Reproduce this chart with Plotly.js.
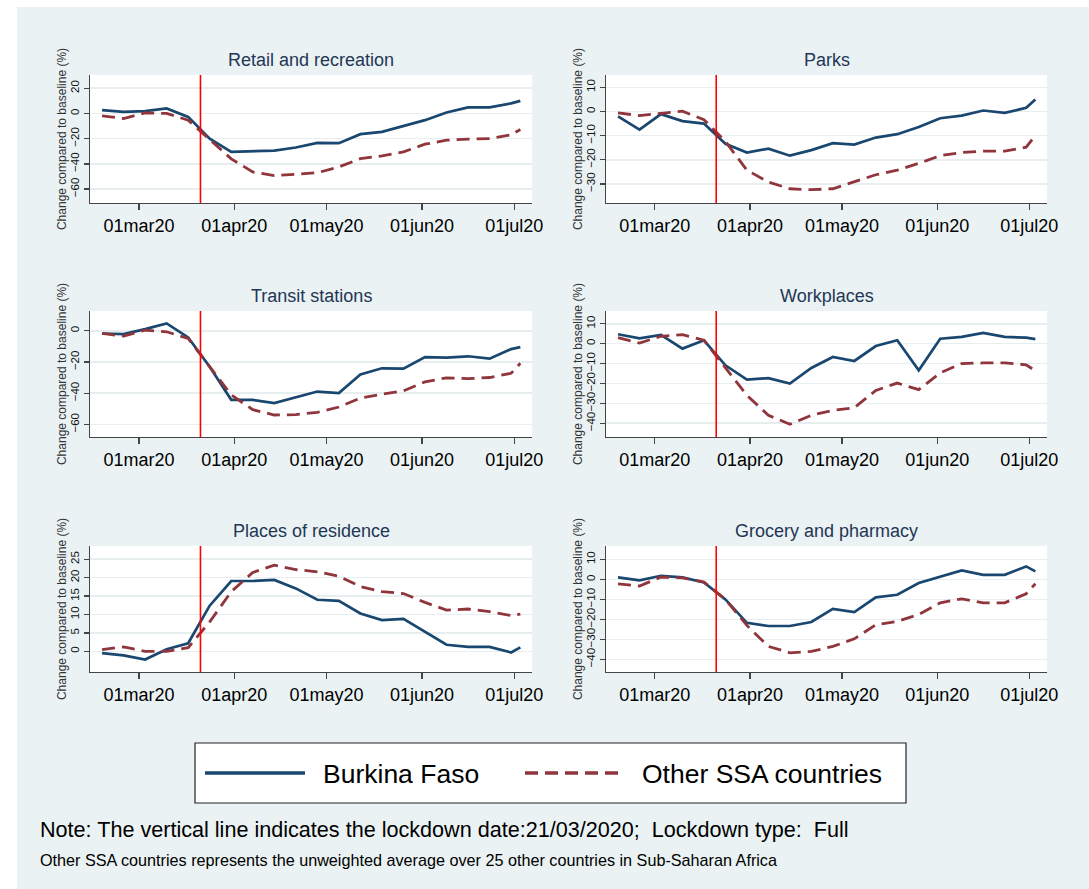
<!DOCTYPE html>
<html><head><meta charset="utf-8">
<script src="https://cdn.plot.ly/plotly-3.0.1.min.js"></script>
<style>html,body{margin:0;padding:0;background:#fff;}#chart{width:1089px;height:889px;}</style>
</head><body><div id="chart"></div>
<script>
// ---------- DATA ----------
const dates = ['2020-02-18','2020-02-25','2020-03-03','2020-03-10','2020-03-17','2020-03-24','2020-03-31',
  '2020-04-07','2020-04-14','2020-04-21','2020-04-28','2020-05-05','2020-05-12','2020-05-19','2020-05-26',
  '2020-06-02','2020-06-09','2020-06-16','2020-06-23','2020-06-30','2020-07-03'];

const panelTitles = ['Retail and recreation','Parks','Transit stations','Workplaces','Places of residence','Grocery and pharmacy'];
const seriesNames = ['Burkina Faso','Other SSA countries'];

const retailBF  = [2.6,1.3,1.9,4,-2.7,-20,-30.5,-29.7,-29.4,-27,-23.3,-23.6,-16.4,-14.6,-10,-5.3,0.8,4.8,4.8,8,10];
const retailSSA = [-1.9,-4,0.5,0,-5.3,-21,-36,-46.4,-49.3,-48.3,-47,-42.4,-35.8,-33.7,-30.5,-24.4,-21.2,-20.4,-19.9,-17,-12.7];

const parksBF  = [-2,-7.5,-1.1,-4,-5,-13.4,-17,-15.4,-18.3,-16,-13.1,-13.7,-10.8,-9.4,-6.4,-2.8,-1.7,0.4,-0.6,1.5,5];
const parksSSA = [-0.6,-1.7,-0.8,0.1,-3.4,-12.4,-24.3,-29.2,-32,-32.4,-32,-29.2,-26.2,-24.3,-21.5,-18.3,-17,-16.4,-16.4,-14.8,-10];

const transitBF  = [-1.7,-2.1,1.1,4.7,-4.2,-23,-44.2,-44.2,-46.3,-42.5,-38.9,-39.9,-28,-24,-24.2,-16.8,-17.2,-16.3,-17.8,-11.7,-10.4];
const transitSSA = [-1.7,-3.4,0.4,-0.6,-4.9,-23,-41,-50.5,-53.9,-53.7,-52.2,-48.8,-43.1,-40.6,-38.4,-32.7,-30.1,-30.6,-29.9,-27.2,-20.8];

const workBF  = [4.7,2.7,4.4,-2.5,1.7,-10.9,-18.1,-17.3,-20.1,-12.2,-6.7,-8.7,-1.2,1.7,-13.4,2.5,3.4,5.4,3.4,3,2.3];
const workSSA = [3,0.3,3.7,4.5,1.7,-12,-26,-36,-40.5,-36,-33.5,-32.2,-23.5,-19.8,-23.1,-14.7,-10,-9.7,-9.7,-10.6,-13.7];

const residBF  = [-0.5,-1.1,-2.2,0.6,2.2,12.4,19.1,19.1,19.4,17.1,14,13.7,10.3,8.5,8.8,5.4,1.8,1.2,1.2,-0.3,1.1];
const residSSA = [0.5,1.2,0,0,1,8,16.2,21.4,23.4,22.2,21.6,20.4,17.6,16.2,15.7,13.3,11.2,11.5,10.8,9.7,10.1];

const grocBF  = [1,-0.5,1.8,1,-1.5,-10,-21.7,-23.3,-23.3,-21.3,-14.7,-16.3,-9,-7.7,-1.8,1.5,4.5,2.3,2.3,6.5,4];
const grocSSA = [-2.2,-3.3,1.2,0.8,-1.3,-10,-23,-33.5,-36.7,-36,-33.5,-29.7,-22.7,-21,-17.5,-11.7,-9.7,-11.7,-11.7,-7.2,-2.2];

const xTickVals = ['2020-03-01','2020-04-01','2020-05-01','2020-06-01','2020-07-01'];
const xTickText = ['01mar20','01apr20','01may20','01jun20','01jul20'];
const yTicks = [[20,0,-20,-40,-60],[10,0,-10,-20,-30],[0,-20,-40,-60],[10,0,-10,-20,-30,-40],[0,5,10,15,20,25],[10,0,-10,-20,-30,-40]];
const yRanges = [[-71,30.5],[-37.9,15.1],[-68,12.7],[-46.9,16.4],[-5.6,28.6],[-46.3,16.7]];
const lockdownDate = '2020-03-21';
const yAxisTitle = 'Change compared to baseline (%)';
const note1 = 'Note: The vertical line indicates the lockdown date:21/03/2020;\u00a0\u00a0Lockdown type:\u00a0\u00a0Full';
const note2 = 'Other SSA countries represents the unweighted average over 25 other countries in Sub-Saharan Africa';

const panelData = [[retailBF,retailSSA],[parksBF,parksSSA],[transitBF,transitSSA],[workBF,workSSA],[residBF,residSSA],[grocBF,grocSSA]];

// ---------- LAYOUT ----------
const W = 1089, H = 889;
const px = v => v / W;
const py = v => 1 - v / H;
const colX = [[90,532],[606,1047]];
const rowY = [[75,203],[311,437],[546,672]];
const titleY = [60,296,531];
const BLUE = '#1a476f', RED = '#90353b';
const FONT = 'Liberation Sans, Arial, sans-serif';

const traces = [];
const layout = {
  width: W, height: H,
  margin: {l:0,r:0,t:0,b:0},
  paper_bgcolor: '#eaf2f3',
  plot_bgcolor: '#ffffff',
  showlegend: false,
  font: {family: FONT, color: '#000'},
  shapes: [], annotations: []
};

for (let i = 0; i < 6; i++) {
  const r = Math.floor(i/2), c = i % 2;
  const n = i + 1;
  const xa = 'x' + (n === 1 ? '' : n), ya = 'y' + (n === 1 ? '' : n);
  const xk = 'xaxis' + (n === 1 ? '' : n), yk = 'yaxis' + (n === 1 ? '' : n);
  traces.push({x: dates, y: panelData[i][0], xaxis: xa, yaxis: ya, type: 'scatter', mode: 'lines',
    name: seriesNames[0], line: {color: BLUE, width: 2.7}});
  traces.push({x: dates, y: panelData[i][1], xaxis: xa, yaxis: ya, type: 'scatter', mode: 'lines',
    name: seriesNames[1], line: {color: RED, width: 2.8, dash: '13px,7px'}});
  layout[xk] = {
    domain: [px(colX[c][0]), px(colX[c][1])], anchor: ya, type: 'date',
    range: ['2020-02-14 02:00','2020-07-06 19:00'],
    tickvals: xTickVals, ticktext: xTickText,
    showgrid: false, zeroline: false, showline: true, linecolor: '#444', linewidth: 1.3,
    ticks: 'outside', ticklen: 6, tickcolor: '#444', tickwidth: 1.3,
    tickfont: {size: 18, color: '#000', family: FONT}, fixedrange: true
  };
  layout[yk] = {
    domain: [py(rowY[r][1]), py(rowY[r][0])], anchor: xa,
    range: yRanges[i], tickvals: yTicks[i], tickangle: -90,
    showgrid: true, gridcolor: '#e6eef0', gridwidth: 1.6, zeroline: false,
    showline: true, linecolor: '#444', linewidth: 1.3,
    ticks: 'outside', ticklen: 5, tickcolor: '#444', tickwidth: 1.3,
    tickfont: {size: 11.5, color: '#111', family: FONT},
    title: {text: yAxisTitle, font: {size: 12, color: '#333', family: FONT}, standoff: 0},
    fixedrange: true
  };
  layout.shapes.push({type: 'line', xref: xa, yref: ya + ' domain', x0: lockdownDate, x1: lockdownDate,
    y0: 0, y1: 1, line: {color: '#ff0000', width: 1.6}});
  layout.annotations.push({text: panelTitles[i], xref: 'paper', yref: 'paper',
    x: px((colX[c][0] + colX[c][1]) / 2), y: py(titleY[r]), xanchor: 'center', yanchor: 'middle',
    showarrow: false, font: {size: 18, color: '#243656', family: FONT}});
}

// white page strips (top and left)
layout.shapes.push({type:'rect', xref:'paper', yref:'paper', x0:0, x1:px(17), y0:0, y1:1, fillcolor:'#fff', line:{width:0}, layer:'above'});
layout.shapes.push({type:'rect', xref:'paper', yref:'paper', x0:0, x1:1, y0:py(7), y1:1, fillcolor:'#fff', line:{width:0}, layer:'above'});

// legend box
layout.shapes.push({type:'rect', xref:'paper', yref:'paper', x0:px(195), x1:px(906), y0:py(803), y1:py(743), fillcolor:'#fff', line:{color:'#222', width:1.2}});
layout.shapes.push({type:'line', xref:'paper', yref:'paper', x0:px(205), x1:px(305), y0:py(773), y1:py(773), line:{color:BLUE, width:3.5}});
layout.shapes.push({type:'line', xref:'paper', yref:'paper', x0:px(525), x1:px(625), y0:py(773), y1:py(773), line:{color:RED, width:3.5, dash:'13px,7px'}});
layout.annotations.push({text: seriesNames[0], xref:'paper', yref:'paper', x:px(321), y:py(774), xanchor:'left', yanchor:'middle', showarrow:false, font:{size:26.5, color:'#000', family:FONT}});
layout.annotations.push({text: seriesNames[1], xref:'paper', yref:'paper', x:px(640), y:py(774), xanchor:'left', yanchor:'middle', showarrow:false, font:{size:26.5, color:'#000', family:FONT}});

// notes
layout.annotations.push({text: note1, xref:'paper', yref:'paper', x:px(38), y:py(829), xanchor:'left', yanchor:'middle', showarrow:false, font:{size:21.6, color:'#000', family:FONT}});
layout.annotations.push({text: note2, xref:'paper', yref:'paper', x:px(38), y:py(860), xanchor:'left', yanchor:'middle', showarrow:false, font:{size:16.2, color:'#000', family:FONT}});

Plotly.newPlot('chart', traces, layout, {displayModeBar: false, staticPlot: true});
</script>
</body></html>
